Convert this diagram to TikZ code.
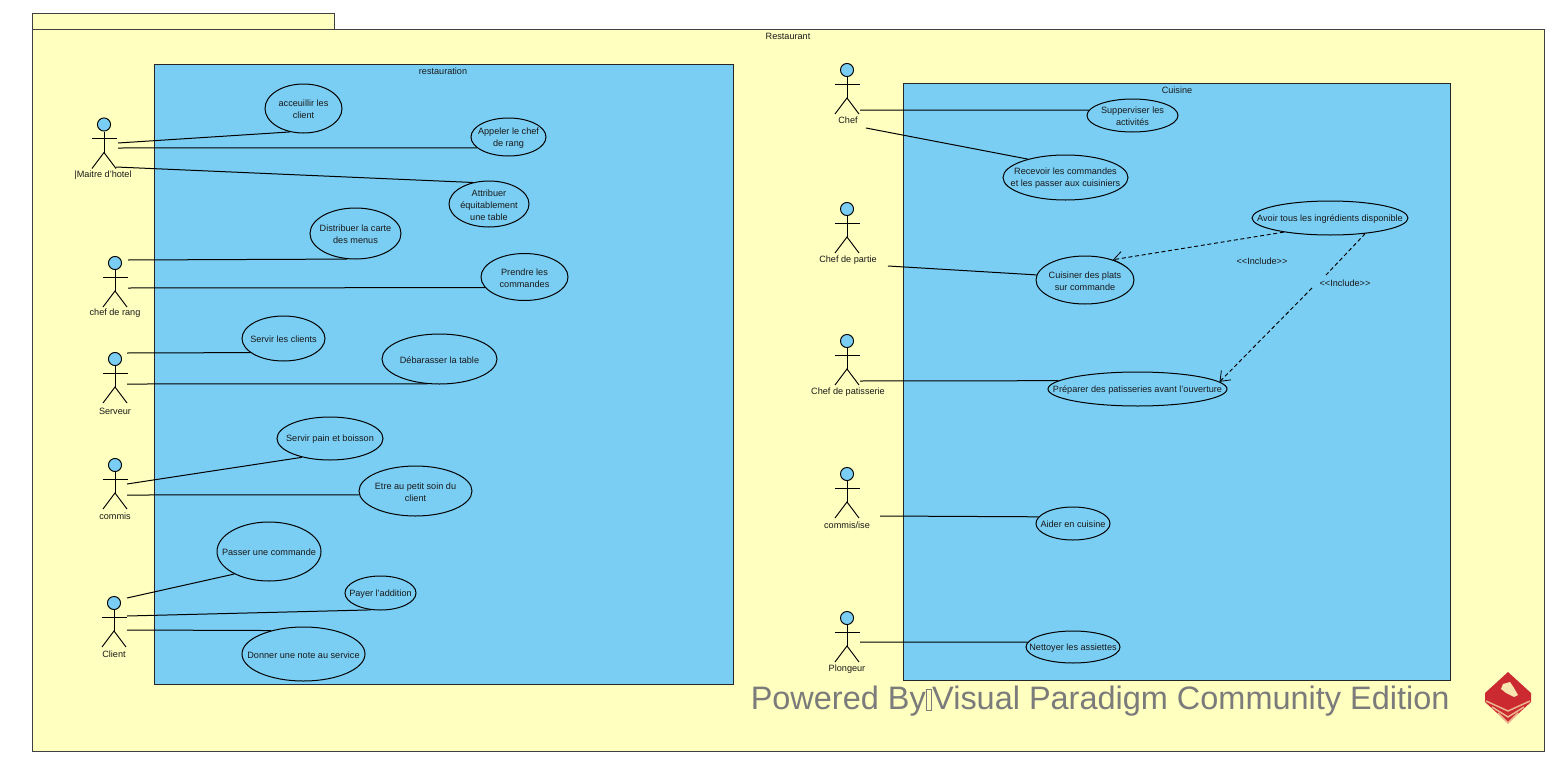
\documentclass[tikz,border=0pt]{standalone}
\usepackage{fontspec}
\setmainfont{Liberation Sans}
\usetikzlibrary{shapes.geometric,arrows.meta}
\definecolor{pkg}{HTML}{FFFFC0}
\definecolor{sys}{HTML}{7ACEF4}
\definecolor{wm}{HTML}{7B7B7B}
\definecolor{vp}{HTML}{CB2B30}
\tikzset{
  pkgbox/.style={draw=black!75,fill=pkg,line width=.7pt},
  sysbox/.style={draw=black!85,fill=sys,line width=.7pt},
  uc/.style={ellipse,draw=black,fill=sys,line width=.75pt,inner sep=0pt},
  txt/.style={font=\fontsize{6.85}{9}\selectfont,align=center,inner sep=0pt,text=black!90,yshift=-.6pt},
  assoc/.style={draw=black,line width=.75pt},
  incl/.style={draw=black,line width=.7pt,dash pattern=on 3pt off 2pt,-{Straight Barb[length=6.5pt,width=10pt,line width=.6pt]}},
  inclplain/.style={draw=black,line width=.7pt,dash pattern=on 3pt off 2pt},
  head/.style={circle,draw=black,fill=sys,line width=.7pt,minimum size=9.8pt,inner sep=0pt},
  limb/.style={draw=black,line width=.7pt}
}
\newcommand{\actor}[6]{% name,x,y,labelx,labely,label
  \node[head] (#1) at (#2,#3) {};
  \coordinate (#1-h) at (#2,#3+28);
  \draw[limb] (#1) -- (#1-h);
  \draw[limb] (#2-12.5,#3+14) -- (#2+12.5,#3+14);
  \draw[limb] (#2-12,#3+44) -- (#1-h) -- (#2+12,#3+44);
  \node[txt] (#1-l) at (#4,#5) {#6};
}
\newcommand{\uc}[6]{% name,x,y,w,h,text
  \node[uc,minimum width=#4*.75pt,minimum height=#5*.75pt] (#1) at (#2,#3) {};
  \node[txt] (#1-t) at (#2,#3) {#6};
}
\begin{document}
\begin{tikzpicture}[x=.75pt,y=-.75pt]
\useasboundingbox (0,0) rectangle (1560,760);
\fill[white] (0,0) rectangle (1560,760);
\draw[pkgbox] (32,13) rectangle (334.5,29);
\draw[pkgbox] (32,29) rectangle (1544,751.5);
\node[txt] (restaurant) at (788,36) {Restaurant};
\draw[sysbox] (154.5,64) rectangle (733,684.5);
\node[txt] (restauration) at (443,70.5) {restauration};
\draw[sysbox] (903.5,83) rectangle (1450,680.5);
\node[txt] (cuisine) at (1177,89.5) {Cuisine};

\uc{a1}{303.5}{108.5}{77}{49}{acceuillir les\\client}
\uc{a2}{508.5}{137}{75}{38}{Appeler le chef\\de rang}
\uc{a3}{489}{204}{80}{46}{Attribuer\\équitablement\\une table}
\uc{b1}{355.5}{233.5}{91}{51}{Distribuer la carte\\des menus}
\uc{b2}{524.5}{277}{87}{47}{Prendre les\\commandes}
\uc{c1}{283.5}{338.5}{83}{45}{Servir les clients}
\uc{c2}{439.5}{359}{115}{50}{Débarasser la table}
\uc{d1}{330}{438.5}{106}{43}{Servir pain et boisson}
\uc{d2}{415.5}{491}{113}{50}{Etre au petit soin du\\client}
\uc{e1}{269}{551.5}{104}{59}{Passer une commande}
\uc{e2}{380.5}{593}{71}{34}{Payer l'addition}
\uc{e3}{303.5}{654}{123}{54}{Donner une note au service}
\uc{f1}{1132.5}{115.5}{91}{33}{Supperviser les\\activités}
\uc{f2}{1065.5}{177.5}{125}{45}{Recevoir les commandes\\et les passer aux cuisiniers}
\uc{g1}{1085}{280}{98}{48}{Cuisiner des plats\\sur commande}
\uc{g2}{1330}{218}{156}{34}{Avoir tous les ingrédients disponible}
\uc{h1}{1137.5}{389}{179}{34}{Préparer des patisseries avant l'ouverture}
\uc{i1}{1073}{523.5}{74}{33}{Aider en cuisine}
\uc{j1}{1073}{647}{94}{32}{Nettoyer les assiettes}

\actor{maitre}{104}{124.5}{103}{174.4}{|Maitre d'hotel}
\actor{rang}{115}{263}{115}{312.4}{chef de rang}
\actor{serveur}{115}{359}{115}{410.4}{Serveur}
\actor{commis}{115}{465}{115}{515.4}{commis}
\actor{client}{114}{603}{114}{653.4}{Client}
\actor{chef}{847}{70}{848}{119.4}{Chef}
\actor{partie}{847}{209}{848}{259.4}{Chef de partie}
\actor{patis}{847}{341}{848}{391.4}{Chef de patisserie}
\actor{commise}{847}{474}{847}{524.4}{commis/ise}
\actor{plong}{847}{618}{847}{668.4}{Plongeur}

\coordinate (s1) at (118,143);
\coordinate (s2) at (118,148);
\coordinate (s3) at (116,167);
\coordinate (s4) at (128,260);
\coordinate (s5) at (128,288);
\coordinate (s6) at (127,353);
\coordinate (s7) at (127,384);
\coordinate (s8) at (127,484);
\coordinate (s9) at (127,495);
\coordinate (s10) at (127,598);
\coordinate (s11) at (127,616);
\coordinate (s12) at (127,630);
\coordinate (s13) at (860,110);
\coordinate (s14) at (866,128);
\coordinate (s15) at (888,266);
\coordinate (s16) at (860,381);
\coordinate (s17) at (880,516);
\coordinate (s18) at (860,642);
\draw[assoc] (s1) -- (a1.240);
\draw[assoc] (s2) -- (a2.199.5);
\draw[assoc] (s3) -- (a3.127.3);
\draw[assoc] (s4) -- (b1.252.9);
\draw[assoc] (s5) -- (b2.195.4);
\draw[assoc] (s6) -- (c1.203.2);
\draw[assoc] (s7) -- (c2.244.4);
\draw[assoc] (s8) -- (d1.214.2);
\draw[assoc] (s9) -- (d2.184);
\draw[assoc] (s10) -- (e1.213);
\draw[assoc] (s11) -- (e2.241.9);
\draw[assoc] (s12) -- (e3.144);
\draw[assoc] (s13) -- (f1.173.5);
\draw[assoc] (s14) -- (f2.154.7);
\draw[assoc] (s15) -- (g1.174);
\draw[assoc] (s16) -- (h1.174);
\draw[assoc] (s17) -- (i1.169);
\draw[assoc] (s18) -- (j1.174);

\draw[incl] (g2.197.1) -- (g1.36.5);
\coordinate (gapA) at (1326,275);
\coordinate (gapB) at (1312,288);
\draw[inclplain] (g2.336) -- (gapA);
\draw[incl] (gapB) -- (h1.5.7);
\node[txt] (inc1) at (1262,260.4) {<{}<Include>{}>};
\node[txt] (inc2) at (1345,282.4) {<{}<Include>{}>};

\node[font=\fontsize{24.35}{24}\selectfont,text=wm,inner sep=0pt,anchor=base west] (wmark) at (750.5,709.5) {Powered By{\fboxsep=0pt\fboxrule=.6pt\fbox{\phantom{\rule{3.6pt}{15pt}}}}Visual Paradigm Community Edition};

% logo
\fill[vp] (1508,672) -- (1531,693) -- (1531,702) -- (1508,723) -- (1485,702) -- (1485,693) -- cycle;
\foreach \yy in {704,710,716}
  \draw[vp!35!pkg,line width=1.1pt] (1486+\yy-704,\yy-3) -- (1508,\yy+7) -- (1530-\yy+704,\yy-3);
\fill[vp!12!pkg] (1503,684) -- (1510,682) -- (1514,688) -- (1518,695) -- (1514,697) -- (1506,693) -- (1501,689) -- cycle;
\end{tikzpicture}
\end{document}
